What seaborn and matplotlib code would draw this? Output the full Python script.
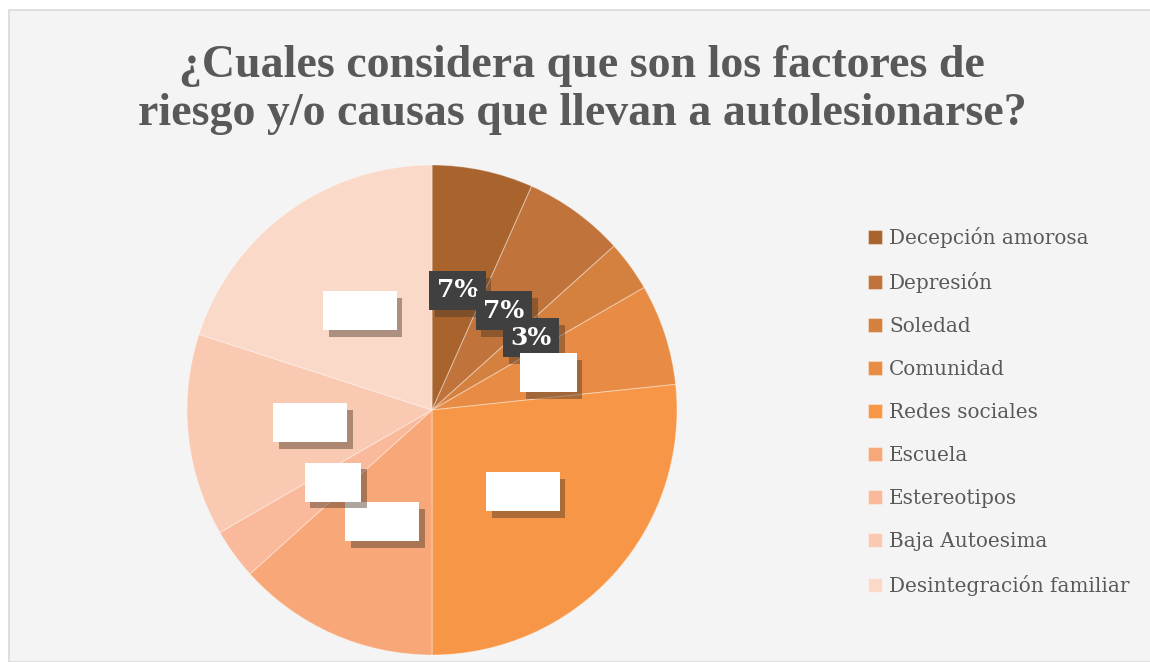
import matplotlib
matplotlib.use("Agg")
import matplotlib.pyplot as plt
import matplotlib.patheffects as pe
from matplotlib.patches import Rectangle
import seaborn as sns

sns.set_theme(style="white")
plt.rcParams['font.family'] = ['DejaVu Serif']

categories = ["Decepción amorosa", "Depresión", "Soledad", "Comunidad",
              "Redes sociales", "Escuela", "Estereotipos", "Baja Autoesima",
              "Desintegración familiar"]
counts = [2, 2, 1, 2, 8, 4, 1, 4, 6]
colors = ["#A9632D", "#C0733A", "#D4803E", "#E88C45", "#F79646",
          "#F8A878", "#F9B99A", "#FAC9B2", "#FBD9C9"]
dark_labels = [True, True, True, False, False, False, False, False, False]
title = "¿Cuales considera que son los factores de\nriesgo y/o causas que llevan a autolesionarse?"

W, H = 1150, 662
fig = plt.figure(figsize=(W / 100, H / 100), dpi=100, facecolor="white")
fig.patches.append(Rectangle((9 / W, 0), 1, 1 - 10 / H, transform=fig.transFigure,
                             facecolor="#F4F4F4", edgecolor="#D9D9D9", lw=1.2, zorder=-10))

cx, cy, r = 432, 662 - 410, 245
ax = fig.add_axes([(cx - r) / W, (cy - r) / H, 2 * r / W, 2 * r / H])
ax.set_facecolor("none")
ax.set_zorder(2)

wedges, texts, autotexts = ax.pie(
    counts, colors=colors, startangle=90, counterclock=False,
    autopct=lambda p: f"{p:.0f}%", pctdistance=0.5,
    wedgeprops=dict(edgecolor=(1, 1, 1, 0.35), linewidth=0.8))
ax.set_aspect("equal")
ax.set_xlim(-1, 1)
ax.set_ylim(-1, 1)

shadow = [pe.SimplePatchShadow(offset=(4, -5), shadow_rgbFace=(0.3, 0.22, 0.15), alpha=0.45),
          pe.Normal()]
for t, dark in zip(autotexts, dark_labels):
    t.set_fontsize(18)
    t.set_fontweight("bold")
    t.set_color("white")
    t.set_zorder(6)
    fc = "#404040" if dark else "white"
    t.set_bbox(dict(boxstyle="square,pad=0.3", facecolor=fc, edgecolor="none"))
    t.get_bbox_patch().set_path_effects(shadow)

fig.text(582 / W, 1 - 90 / H, title, ha="center", va="center", fontsize=33,
         fontweight="bold", color="#595959", linespacing=1.2, family="Liberation Serif")

leg = fig.legend(wedges, categories, loc="upper left",
                 bbox_to_anchor=(858 / W, 1 - 217 / H), frameon=False,
                 fontsize=14.4, labelcolor="#595959", handlelength=0.7, handleheight=0.7,
                 handletextpad=0.35, labelspacing=1.2, borderpad=0)

fig.savefig("out.png", dpi=100, facecolor="white")
